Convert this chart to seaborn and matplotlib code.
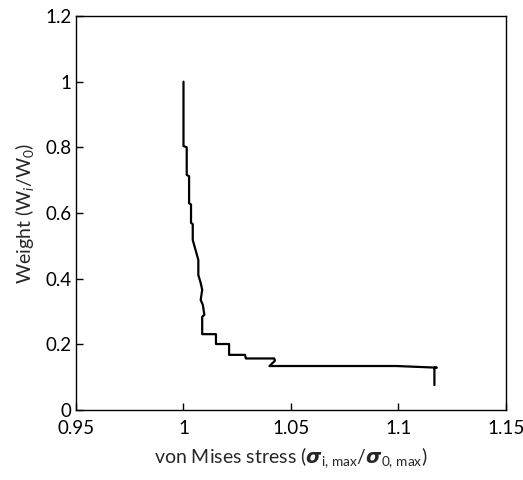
import matplotlib
matplotlib.use("Agg")
import matplotlib.pyplot as plt
import seaborn as sns
import pandas as pd
from matplotlib.ticker import FuncFormatter

stress = [1.0000, 1.0000, 1.0015, 1.0015, 1.0026, 1.0026, 1.0035, 1.0035, 1.0043, 1.0043,
          1.0069, 1.0069, 1.0080, 1.0087, 1.0080, 1.0090, 1.0097, 1.0087, 1.0087, 1.0151,
          1.0151, 1.0212, 1.0212, 1.0286, 1.0290, 1.0422, 1.0425, 1.0400, 1.0990, 1.1178,
          1.1167, 1.1167]
weight = [1.000, 0.804, 0.800, 0.716, 0.712, 0.630, 0.626, 0.570, 0.566, 0.518,
          0.457, 0.411, 0.387, 0.366, 0.335, 0.320, 0.290, 0.284, 0.231, 0.231,
          0.201, 0.201, 0.168, 0.168, 0.157, 0.157, 0.150, 0.134, 0.134, 0.129,
          0.129, 0.076]

x_ticks = [0.95, 1.0, 1.05, 1.1, 1.15]
y_ticks = [0, 0.2, 0.4, 0.6, 0.8, 1.0, 1.2]

sns.set_style("white")
plt.rcParams['font.family'] = ['Lato', 'DejaVu Sans']
plt.rcParams['mathtext.fontset'] = 'custom'
plt.rcParams['mathtext.rm'] = 'Lato'
plt.rcParams['mathtext.it'] = 'Lato:italic'
plt.rcParams['mathtext.bf'] = 'Lato:bold'

df = pd.DataFrame({"stress": stress, "weight": weight, "order": range(len(stress))})

fig = plt.figure(figsize=(5.23, 4.80), dpi=100)
ax = fig.add_axes([0.1453, 0.1458, 0.8222, 0.8209])
sns.lineplot(data=df, x="stress", y="weight", sort=False, estimator=None,
             color="black", linewidth=1.6, ax=ax)

ax.set_xlim(0.95, 1.15)
ax.set_ylim(0, 1.2)
ax.set_xticks(x_ticks)
ax.set_yticks(y_ticks)
fmt = FuncFormatter(lambda v, p: f"{v:g}")
ax.xaxis.set_major_formatter(fmt)
ax.yaxis.set_major_formatter(fmt)
ax.tick_params(direction="in", length=5, width=1, labelsize=13.5, colors="black",
               top=False, right=False, bottom=True, left=True)
ax.tick_params(axis="x", pad=7)
ax.tick_params(axis="y", pad=3)
for s in ax.spines.values():
    s.set_color("black")
    s.set_linewidth(1)

ax.set_xlabel(r"von Mises stress ($\boldsymbol{\sigma}_{\mathrm{i,\,max}}$/$\boldsymbol{\sigma}_{\mathrm{0,\,max}}$)",
              fontsize=14, labelpad=6)
ax.set_ylabel(r"Weight (W$_{i}$/W$_{0}$)", fontsize=14, labelpad=7)

fig.savefig("out.png", dpi=100)
